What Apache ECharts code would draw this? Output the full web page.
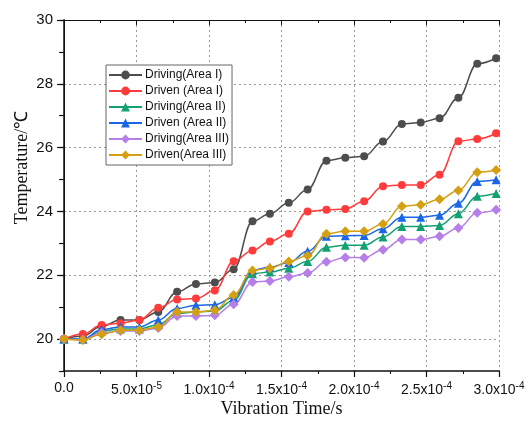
<!DOCTYPE html>
<html>
<head>
<meta charset="utf-8">
<script src="https://cdn.jsdelivr.net/npm/echarts@6/dist/echarts.min.js"></script>
<style>
  html, body { margin: 0; padding: 0; background: #fff; }
  #main { width: 528px; height: 422px; }
</style>
</head>
<body>
<div id="main"></div>
<script>
// vibration time (s) of each measured point
const times = [0, 1.3e-5, 2.6e-5, 3.9e-5, 5.2e-5, 6.5e-5, 7.8e-5, 9.1e-5, 1.04e-4, 1.17e-4, 1.3e-4, 1.42e-4,
  1.55e-4, 1.68e-4, 1.81e-4, 1.94e-4, 2.07e-4, 2.2e-4, 2.33e-4, 2.46e-4, 2.59e-4, 2.72e-4, 2.85e-4, 2.98e-4];

// temperatures (C)
const drivingArea1 = [20.0, 20.1, 20.4, 20.6, 20.6, 20.85, 21.48, 21.73, 21.77, 22.19, 23.69, 23.93,
  24.27, 24.69, 25.59, 25.68, 25.73, 26.19, 26.74, 26.79, 26.92, 27.56, 28.63, 28.8];
const drivenArea1 = [20.0, 20.16, 20.44, 20.5, 20.6, 20.98, 21.24, 21.27, 21.52, 22.44, 22.78, 23.06,
  23.3, 24.0, 24.05, 24.08, 24.32, 24.79, 24.83, 24.83, 25.15, 26.2, 26.27, 26.45];
const drivingArea2 = [20.0, 20.0, 20.25, 20.32, 20.32, 20.45, 20.8, 20.85, 20.88, 21.22, 22.05, 22.1,
  22.22, 22.43, 22.88, 22.94, 22.94, 23.2, 23.53, 23.53, 23.56, 23.93, 24.48, 24.56];
const drivenArea2 = [20.0, 20.0, 20.3, 20.38, 20.38, 20.6, 20.96, 21.06, 21.08, 21.3, 22.16, 22.25,
  22.4, 22.75, 23.22, 23.24, 23.25, 23.46, 23.82, 23.82, 23.88, 24.26, 24.94, 24.99];
const drivingArea3 = [20.0, 19.98, 20.2, 20.25, 20.25, 20.35, 20.72, 20.72, 20.75, 21.09, 21.79, 21.82,
  21.95, 22.07, 22.42, 22.56, 22.55, 22.8, 23.12, 23.12, 23.22, 23.48, 23.96, 24.05];
const drivenArea3 = [20.0, 19.97, 20.15, 20.28, 20.28, 20.38, 20.85, 20.85, 20.9, 21.38, 22.15, 22.22,
  22.43, 22.61, 23.3, 23.38, 23.38, 23.61, 24.16, 24.21, 24.38, 24.66, 25.23, 25.3];

const seriesNames = ['Driving(Area I)', 'Driven (Area I)', 'Driving(Area II)', 'Driven (Area II)', 'Driving(Area III)', 'Driven(Area III)'];
const yTickValues = [20, 22, 24, 26, 28, 30];

var chart = echarts.init(document.getElementById('main'));

function makeSeries(name, values, color, symbol, size) {
    return {
        name: name,
        type: 'line',
        data: times.map(function (t, i) { return [t, values[i]]; }),
        smooth: 0.4,
        smoothMonotone: 'x',
        symbol: symbol,
        symbolSize: size,
        lineStyle: { color: color, width: 1.5 },
        itemStyle: { color: color },
        z: 3
    };
}

function timeLabel(v) {
    if (v === 0) return '{a|0.0}';
    var exp = Math.floor(Math.log10(v) + 1e-9);
    var mant = (v / Math.pow(10, exp)).toFixed(1);
    return '{a|' + mant + 'x10}{b|' + exp + '}';
}

var option = {
    animation: false,
    backgroundColor: '#fff',
    grid: { left: 64, right: 29, top: 20, bottom: 51, outerBoundsMode: 'none' },
    legend: {
        orient: 'vertical',
        left: 106,
        top: 65,
        padding: [4, 3, 4, 2],
        itemGap: 4,
        itemWidth: 33,
        itemHeight: 11,
        backgroundColor: '#fff',
        borderColor: '#666',
        borderWidth: 1,
        borderRadius: 0,
        textStyle: { fontFamily: 'Liberation Sans', fontSize: 12, color: '#111', padding: [0, 0, 0, -2] },
        data: seriesNames
    },
    xAxis: [{
        type: 'value',
        min: 0,
        max: 3e-4,
        interval: 5e-5,
        name: 'Vibration Time/s',
        nameLocation: 'middle',
        nameGap: 29,
        nameMoveOverlap: false,
        nameTextStyle: { fontFamily: 'Liberation Serif', fontSize: 18, color: '#111' },
        axisLine: { lineStyle: { color: '#111', width: 1.5 } },
        axisTick: { inside: false, length: 6, lineStyle: { color: '#111', width: 1.2 } },
        minorTick: { show: true, splitNumber: 2, length: 3, lineStyle: { color: '#111' } },
        axisLabel: {
            margin: 10,
            formatter: timeLabel,
            rich: {
                a: { fontFamily: 'Liberation Sans', fontSize: 14, color: '#111' },
                b: { fontFamily: 'Liberation Sans', fontSize: 10, color: '#111', padding: [0, 0, 8, 0] }
            }
        },
        splitLine: { show: true, lineStyle: { color: '#999', type: [2, 3], width: 1 } }
    }, {
        type: 'value',
        position: 'top',
        min: 0,
        max: 3e-4,
        interval: 5e-5,
        axisLine: { lineStyle: { color: '#111', width: 1 } },
        axisTick: { inside: true, length: 5, lineStyle: { color: '#111' } },
        minorTick: { show: true, splitNumber: 2, length: 3, lineStyle: { color: '#111' } },
        axisLabel: { show: false },
        splitLine: { show: false }
    }],
    yAxis: [{
        type: 'value',
        min: 19,
        max: 30,
        interval: 1,
        name: 'Temperature/\u2103',
        nameLocation: 'middle',
        nameGap: 33,
        nameMoveOverlap: false,
        nameTextStyle: { fontFamily: 'Liberation Serif', fontSize: 18, color: '#111', padding: [0, 0, 0, 56] },
        axisLine: { lineStyle: { color: '#111', width: 1.5 } },
        axisTick: { length: 4, lineStyle: { color: '#111', width: 1.2 } },
        axisLabel: {
            margin: 11,
            fontFamily: 'Liberation Sans',
            fontSize: 15,
            color: '#111',
            formatter: function (v) { return v % 2 === 0 ? String(v) : ''; }
        },
        splitLine: { show: true, lineStyle: { color: ['rgba(0,0,0,0)', '#999'], type: [2, 3], width: 1 } }
    }, {
        type: 'value',
        position: 'right',
        min: 19,
        max: 30,
        interval: 1,
        axisLine: { show: true, lineStyle: { color: '#111', width: 1 } },
        axisTick: { inside: true, length: 5, lineStyle: { color: '#111' } },
        axisLabel: { show: false },
        splitLine: { show: false }
    }, {
        type: 'value',
        position: 'left',
        min: 19,
        max: 30,
        interval: 1,
        axisLine: { show: false },
        axisTick: { length: 7, customValues: yTickValues, lineStyle: { color: '#111', width: 1.2 } },
        axisLabel: { show: false },
        splitLine: { show: false }
    }],
    series: [
        makeSeries(seriesNames[0], drivingArea1, '#4d4d4d', 'circle', 8),
        makeSeries(seriesNames[1], drivenArea1, '#ff3b3b', 'circle', 8),
        makeSeries(seriesNames[2], drivingArea2, '#13a072', 'triangle', 9),
        makeSeries(seriesNames[3], drivenArea2, '#1a66e6', 'triangle', 9),
        makeSeries(seriesNames[4], drivingArea3, '#b57ee8', 'diamond', 10),
        makeSeries(seriesNames[5], drivenArea3, '#d4a012', 'diamond', 10)
    ]
};
chart.setOption(option);
</script>
</body>
</html>
